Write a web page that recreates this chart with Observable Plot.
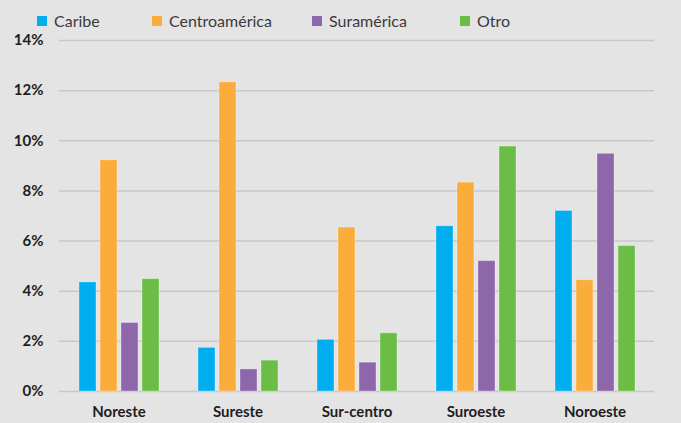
<!DOCTYPE html>
<html>
<head>
<meta charset="utf-8">
<script src="https://cdn.jsdelivr.net/npm/d3@7"></script>
<script src="https://cdn.jsdelivr.net/npm/@observablehq/plot@0.6"></script>
<style>
  html, body { margin: 0; padding: 0; background: #e4e4e4; }
  #wrap { width: 681px; height: 423px; position: relative; overflow: hidden; font-family: Lato, "Open Sans", sans-serif; }
  #legend { position: relative; height: 30px; }
  .item { position: absolute; top: 11px; display: flex; align-items: center; font-size: 16px; color: #3a3a3a; white-space: nowrap; }
  .sw { width: 10px; height: 10px; margin-right: 7px; }
  svg { display: block; }
</style>
</head>
<body>
<div id="wrap">
  <div id="legend"></div>
  <div id="chart"></div>
</div>
<script>
const regions = ["Noreste", "Sureste", "Sur-centro", "Suroeste", "Noroeste"];
const series = ["Caribe", "Centroamérica", "Suramérica", "Otro"];
const caribe = [4.35, 1.74, 2.06, 6.59, 7.2];
const centroamerica = [9.22, 12.33, 6.54, 8.33, 4.44];
const suramerica = [2.73, 0.88, 1.15, 5.2, 9.48];
const otro = [4.48, 1.23, 2.32, 9.77, 5.8];
const colors = ["#00aeef", "#fbad3c", "#8e67ab", "#6cbd45"];
const yTicks = [0, 2, 4, 6, 8, 10, 12, 14];

const valuesBySeries = [caribe, centroamerica, suramerica, otro];
const data = series.flatMap((s, i) =>
  regions.map((r, j) => ({ region: r, series: s, value: valuesBySeries[i][j] }))
);

// Legend (HTML)
const legendLeft = [37, 152, 312, 460];
const legend = document.getElementById("legend");
series.forEach((s, i) => {
  const it = document.createElement("div");
  it.className = "item";
  it.style.left = legendLeft[i] + "px";
  const sw = document.createElement("span");
  sw.className = "sw";
  sw.style.background = colors[i];
  const tx = document.createElement("span");
  tx.textContent = s;
  it.appendChild(sw);
  it.appendChild(tx);
  legend.appendChild(it);
});

const chart = Plot.plot({
  width: 681,
  height: 393,
  marginTop: 10,
  marginBottom: 32,
  marginLeft: 58,
  marginRight: 26,
  style: { background: "transparent", fontFamily: "Lato, 'Open Sans', sans-serif", overflow: "visible" },
  fx: { domain: regions, paddingInner: 0.3, paddingOuter: 0.15, label: null, axis: null },
  x: { domain: series, paddingInner: 0.2, paddingOuter: 0, axis: null },
  y: { domain: [0, 14], axis: null },
  color: { domain: series, range: colors },
  marks: [
    Plot.ruleY(yTicks, { y: d => d, stroke: "#c8c8c8", strokeWidth: 1.5, insetLeft: -18, insetRight: -18 }),
    Plot.axisY({
      ticks: yTicks, tickFormat: d => d + "%", tickSize: 0, tickPadding: 34, label: null,
      fontSize: 15, fontWeight: "bold", fill: "#1e1e1e"
    }),
    Plot.barY(data, { fx: "region", x: "series", y: "value", fill: "series", stroke: "#ffffff", strokeOpacity: 0.3, strokeWidth: 1 }),
    Plot.axisFx({ anchor: "bottom", tickSize: 0, tickPadding: 15, label: null, fontSize: 15, fontWeight: "bold", fill: "#1e1e1e" })
  ]
});
document.getElementById("chart").appendChild(chart);
</script>
</body>
</html>
